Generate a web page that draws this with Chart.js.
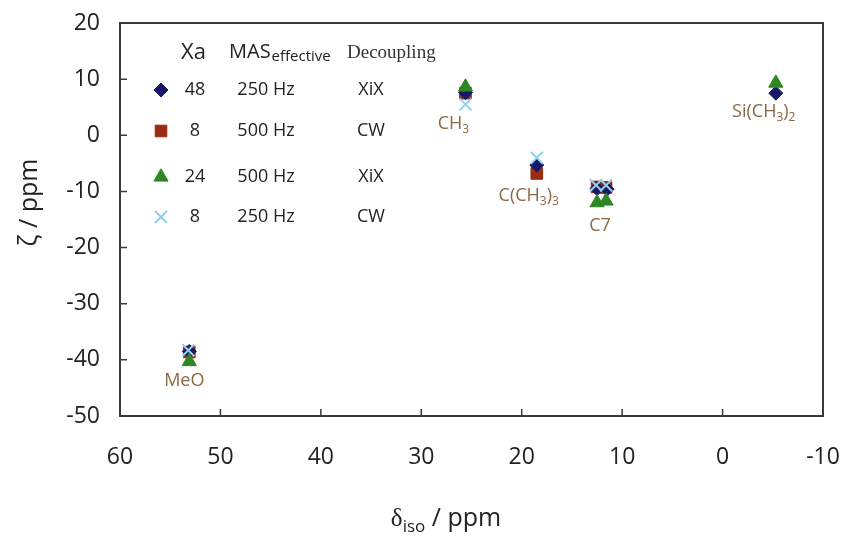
<!DOCTYPE html>
<html>
<head>
<meta charset="utf-8">
<script src="https://cdn.jsdelivr.net/npm/chart.js@4/dist/chart.umd.min.js"></script>
<style>
  html, body { margin: 0; background: #fff; }
</style>
</head>
<body>
<canvas id="zeta" width="853" height="543"></canvas>
<script>
// values (delta_iso, zeta) in ppm
const diamondX = [53.1, 25.6, 18.5, 12.5, 11.5, -5.3];
const diamondY = [-38.5, 7.6, -5.3, -9.5, -9.6, 7.5];
const squareX = [53.1, 25.6, 18.5, 12.5, 11.6];
const squareY = [-38.6, 7.5, -6.8, -9.2, -9.3];
const triangleX = [53.1, 25.6, 12.5, 11.6, -5.3];
const triangleY = [-40.3, 8.6, -12.0, -11.7, 9.3];
const crossX = [53.2, 25.6, 18.5, 12.6, 11.6];
const crossY = [-38.3, 5.5, -4.0, -8.9, -8.9];

const xTicks = [60, 50, 40, 30, 20, 10, 0, -10];
const yTicks = [20, 10, 0, -10, -20, -30, -40, -50];

const legendXa = ['48', '8', '24', '8'];
const legendMas = ['250 Hz', '500 Hz', '500 Hz', '250 Hz'];
const legendDec = ['XiX', 'CW', 'XiX', 'CW'];

// peak labels: text parts [text, isSubscript], anchored in data units
const peakLabels = [
  { x: 53.6, y: -43.8, parts: [['MeO', 0]] },
  { x: 26.8, y: 2.0, parts: [['CH', 0], ['3', 1]] },
  { x: 19.3, y: -10.8, parts: [['C(CH', 0], ['3', 1], [')', 0], ['3', 1]] },
  { x: 12.2, y: -16.2, parts: [['C7', 0]] },
  { x: -4.1, y: 4.1, parts: [['Si(CH', 0], ['3', 1], [')', 0], ['2', 1]] }
];

const SANS = '"Open Sans", "Noto Sans", sans-serif';
const SERIF = '"Liberation Serif", "DejaVu Serif", serif';
const INK = '#222';
const BROWN = '#8a6a44';

const styles = [
  { label: 'diamond', xs: diamondX, ys: diamondY, pointStyle: 'rectRot', color: '#181868', radius: 7, order: 2 },
  { label: 'square', xs: squareX, ys: squareY, pointStyle: 'rect', color: '#9a2c12', radius: 8.2, order: 3 },
  { label: 'triangle', xs: triangleX, ys: triangleY, pointStyle: 'triangle', color: '#2f8624', radius: 8.2, order: 1 },
  { label: 'cross', xs: crossX, ys: crossY, pointStyle: 'crossRot', color: '#94d0ec', radius: 8.5, order: 0 }
];

function pairs(xs, ys) {
  return xs.map((x, i) => ({ x: x, y: ys[i] }));
}

// draw a run of text pieces, e.g. [['CH',0],['3',1]], centred on x
function drawRich(ctx, parts, x, y, size, color, font) {
  const subSize = Math.round(size * 0.68);
  ctx.save();
  ctx.fillStyle = color;
  ctx.textBaseline = 'middle';
  ctx.textAlign = 'left';
  let total = 0;
  parts.forEach(p => {
    ctx.font = (p[1] ? subSize : size) + 'px ' + (p[2] || font);
    total += ctx.measureText(p[0]).width;
  });
  let cx = x - total / 2;
  parts.forEach(p => {
    ctx.font = (p[1] ? subSize : size) + 'px ' + (p[2] || font);
    ctx.fillText(p[0], cx, p[1] ? y + size * 0.32 : y);
    cx += ctx.measureText(p[0]).width;
  });
  ctx.restore();
}

const overlay = {
  id: 'overlay',
  afterDatasetsDraw(chart) {
    const ctx = chart.ctx;
    const a = chart.chartArea;
    const xs = chart.scales.x;
    const ys = chart.scales.y;

    // frame and inward ticks
    ctx.save();
    ctx.strokeStyle = '#3a3a3a';
    ctx.lineWidth = 2;
    ctx.strokeRect(a.left, a.top, a.right - a.left, a.bottom - a.top);
    ctx.lineWidth = 1.5;
    ctx.beginPath();
    yTicks.forEach(v => {
      const py = ys.getPixelForValue(v);
      ctx.moveTo(a.left, py);
      ctx.lineTo(a.left + 7, py);
    });
    xTicks.forEach(v => {
      const px = xs.getPixelForValue(v);
      ctx.moveTo(px, a.bottom);
      ctx.lineTo(px, a.bottom - 7);
    });
    ctx.stroke();
    ctx.restore();

    // peak labels
    peakLabels.forEach(l => {
      drawRich(ctx, l.parts, xs.getPixelForValue(l.x), ys.getPixelForValue(l.y), 18, BROWN, SANS);
    });

    // legend table
    const lx = a.left, ly = a.top;
    ctx.save();
    ctx.fillStyle = INK;
    ctx.textBaseline = 'middle';
    ctx.textAlign = 'left';
    ctx.font = '22px ' + SANS;
    ctx.fillText('Xa', lx + 61, ly + 30);
    ctx.font = '20px ' + SANS;
    ctx.fillText('MAS', lx + 109, ly + 29);
    const masW = ctx.measureText('MAS').width;
    ctx.font = '15px ' + SANS;
    ctx.fillText('effective', lx + 110 + masW, ly + 34);
    ctx.font = '19px ' + SERIF;
    ctx.fillStyle = '#333';
    ctx.fillText('Decoupling', lx + 227, ly + 30);
    ctx.restore();

    const rowY = [67, 108, 154, 194];
    styles.forEach((s, i) => {
      const py = ly + rowY[i];
      ctx.save();
      ctx.fillStyle = s.color;
      ctx.strokeStyle = s.color;
      ctx.lineWidth = s.pointStyle === 'crossRot' ? 2 : 1;
      Chart.helpers.drawPoint(ctx, { pointStyle: s.pointStyle, radius: s.radius, rotation: 0, borderWidth: ctx.lineWidth }, lx + 41, py);
      ctx.restore();
      ctx.save();
      ctx.fillStyle = INK;
      ctx.textBaseline = 'middle';
      ctx.textAlign = 'center';
      ctx.font = '18px ' + SANS;
      ctx.fillText(legendXa[i], lx + 75, py);
      ctx.fillText(legendMas[i], lx + 146, py);
      ctx.fillText(legendDec[i], lx + 251, py);
      ctx.restore();
    });

    // axis titles
    drawRich(ctx, [['\u03b4', 0, SERIF], ['iso', 1], [' / ppm', 0]], 446, 519, 25, INK, SANS);
    ctx.save();
    ctx.translate(30, 203);
    ctx.rotate(-Math.PI / 2);
    drawRich(ctx, [['\u03b6', 0, 'italic ' + SERIF], [' / ppm', 0]], 0, 0, 25, INK, SANS);
    ctx.restore();
  }
};

new Chart(document.getElementById('zeta'), {
  type: 'scatter',
  data: {
    datasets: styles.map(s => ({
      label: s.label,
      data: pairs(s.xs, s.ys),
      pointStyle: s.pointStyle,
      pointRadius: s.radius,
      pointHoverRadius: s.radius,
      backgroundColor: s.color,
      borderColor: s.color,
      borderWidth: s.pointStyle === 'crossRot' ? 2 : 1,
      order: s.order
    }))
  },
  options: {
    responsive: false,
    animation: false,
    layout: { padding: { top: 23, right: 30, left: 0, bottom: 0 } },
    plugins: { legend: { display: false }, tooltip: { enabled: false } },
    scales: {
      x: {
        type: 'linear',
        reverse: true,
        min: -10,
        max: 60,
        afterFit(scale) {
          scale.height = 127;
          scale.paddingLeft = 0;
          scale.paddingRight = 0;
        },
        afterBuildTicks(scale) { scale.ticks = xTicks.map(v => ({ value: v })); },
        grid: { display: false },
        border: { display: false },
        ticks: { color: INK, font: { family: SANS, size: 23 }, padding: 20, maxRotation: 0 }
      },
      y: {
        type: 'linear',
        min: -50,
        max: 20,
        afterFit(scale) {
          scale.width = 120;
          scale.paddingTop = 0;
          scale.paddingBottom = 0;
        },
        afterBuildTicks(scale) { scale.ticks = yTicks.map(v => ({ value: v })); },
        grid: { display: false },
        border: { display: false },
        ticks: { color: INK, font: { family: SANS, size: 23 }, padding: 12 }
      }
    }
  },
  plugins: [overlay]
});
</script>
</body>
</html>
